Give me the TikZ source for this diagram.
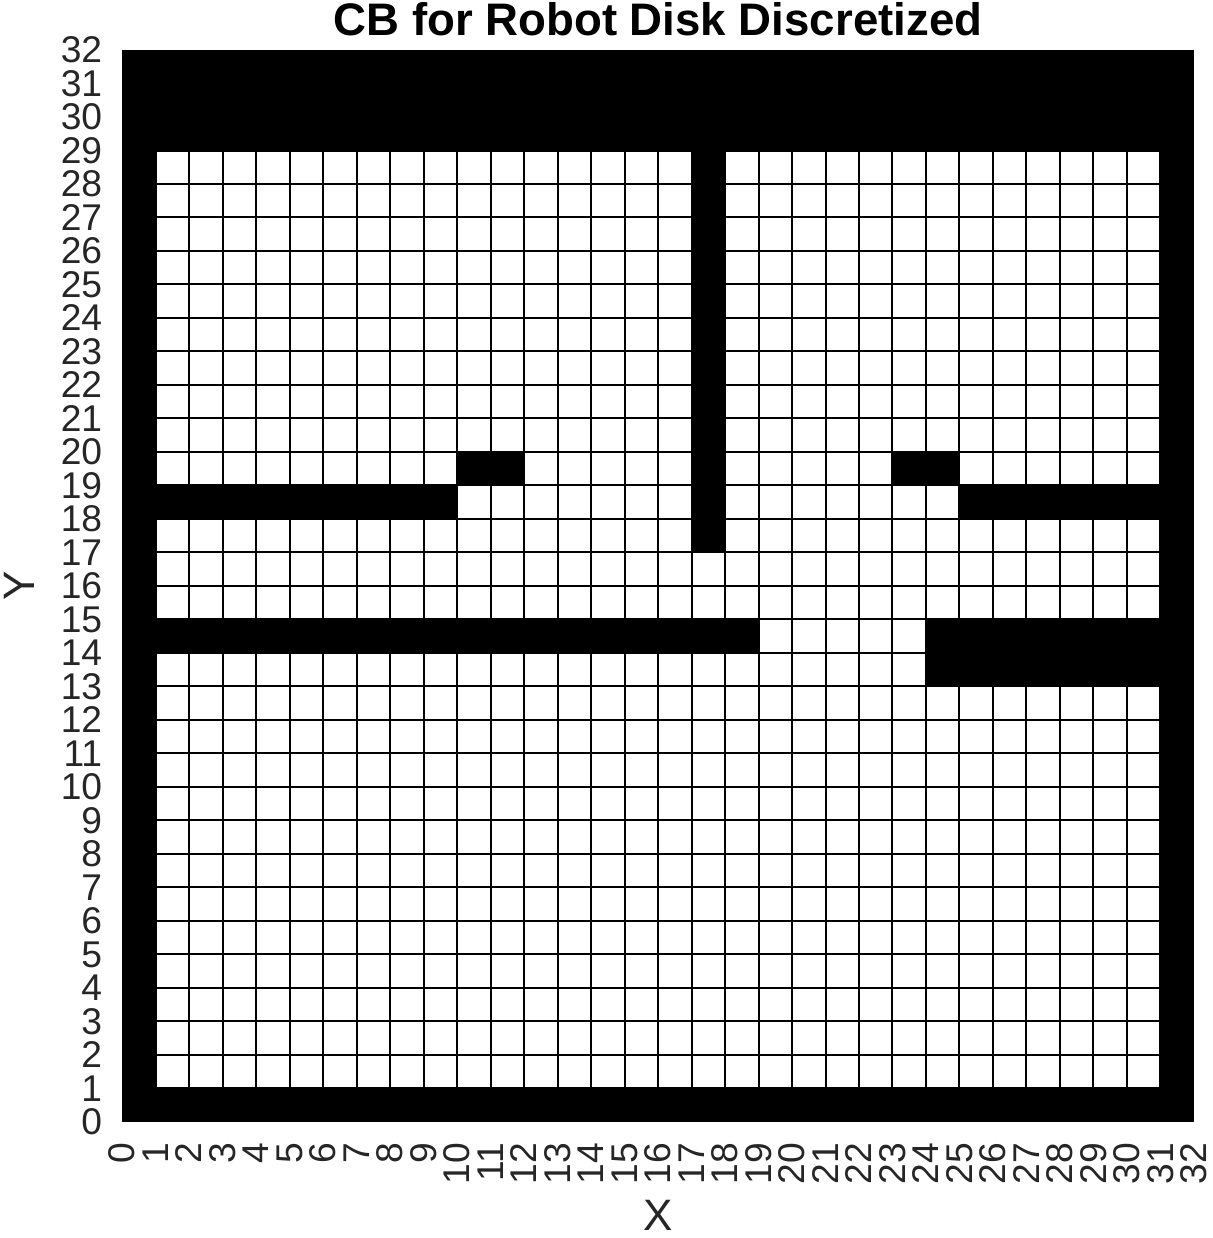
\documentclass[tikz,border=0pt]{standalone}
\usepackage{fontspec}
\setmainfont{Liberation Sans}
\begin{document}
\begin{tikzpicture}[x=16.75pt,y=16.75pt,
  obst/.style={fill=black,draw=none},
  gridline/.style={line width=1pt,black},
  ticklab/.style={inner sep=0pt,font=\fontsize{18.6}{18.6}\selectfont,text=black!85},
  axlab/.style={inner sep=0pt,font=\fontsize{22}{22}\selectfont,text=black!85},
  titlelab/.style={inner sep=0pt,font=\fontsize{22.8}{22.8}\selectfont\bfseries}]
\useasboundingbox (-3.642,-3.463) rectangle (32.567,33.493);
\fill[white] (-3.642,-3.463) rectangle (32.567,33.493);
% grid of free cells
\foreach \i in {1,...,31} {
  \draw[gridline] (\i,1) -- (\i,29);
}
\foreach \j in {1,...,29} {
  \draw[gridline] (1,\j) -- (31,\j);
}
% obstacles
\fill[obst] (0,0) rectangle (32,1);
\fill[obst] (0,0) rectangle (1,32);
\fill[obst] (31,0) rectangle (32,32);
\fill[obst] (0,29) rectangle (32,32);
\fill[obst] (17,17) rectangle (18,29);
\fill[obst] (1,18) rectangle (10,19);
\fill[obst] (10,19) rectangle (12,20);
\fill[obst] (23,19) rectangle (25,20);
\fill[obst] (25,18) rectangle (31,19);
\fill[obst] (1,14) rectangle (19,15);
\fill[obst] (24,13) rectangle (31,15);
% tick labels
\foreach \i in {0,...,32} {
  \node[ticklab,anchor=east] (yl\i) at (-0.58,\i) {\i};
  \node[ticklab,anchor=east,rotate=90] (xl\i) at (\i,-0.62) {\i};
}
\node[axlab,anchor=base] (xlabel) at (16,-3.25) {X};
\node[axlab,anchor=base,rotate=90] (ylabel) at (-2.6,16) {Y};
\node[titlelab,anchor=base] (title) at (16,32.42) {CB for Robot Disk Discretized};
\end{tikzpicture}
\end{document}
